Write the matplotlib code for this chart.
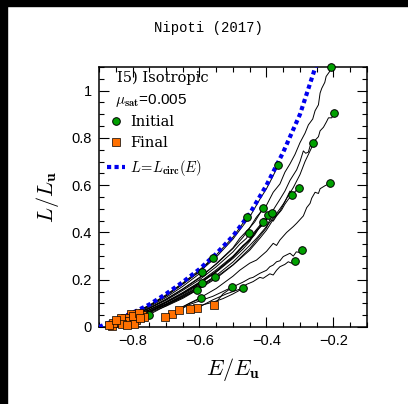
import numpy as np
import matplotlib.pyplot as plt
from matplotlib.patches import Rectangle

plt.rcParams['mathtext.fontset'] = 'cm'

# circular-orbit angular momentum curve
circ_E = [-0.90, -0.85, -0.80, -0.75, -0.70, -0.65, -0.60, -0.55, -0.50, -0.45, -0.40, -0.35, -0.30, -0.27, -0.24]
circ_L = [0.0, 0.03, 0.06, 0.095, 0.14, 0.19, 0.245, 0.31, 0.385, 0.48, 0.60, 0.74, 0.90, 1.03, 1.16]

# initial positions of the satellites
init_E = [-0.208, -0.199, -0.26, -0.21, -0.365, -0.303, -0.323, -0.41, -0.459, -0.395, -0.383, -0.41,
          -0.451, -0.295, -0.315, -0.504, -0.469, -0.559, -0.592, -0.554, -0.593, -0.607, -0.596, -0.75]
init_L = [1.10, 0.904, 0.78, 0.608, 0.685, 0.589, 0.558, 0.503, 0.467, 0.474, 0.484, 0.443,
          0.396, 0.326, 0.279, 0.168, 0.164, 0.292, 0.234, 0.213, 0.185, 0.157, 0.121, 0.051]

# final positions
final_E = [-0.84, -0.805, -0.822, -0.683, -0.862, -0.79, -0.773, -0.835, -0.857, -0.81, -0.765, -0.80,
           -0.83, -0.557, -0.608, -0.66, -0.628, -0.87, -0.848, -0.795, -0.78, -0.778, -0.703, -0.817]
final_L = [0.022, 0.055, 0.037, 0.055, 0.005, 0.030, 0.051, 0.040, 0.016, 0.025, 0.042, 0.047,
           0.012, 0.093, 0.079, 0.072, 0.076, 0.010, 0.030, 0.012, 0.060, 0.037, 0.044, 0.008]

# points along each track between start and end
track_E = [
    [-0.212, -0.222, -0.226, -0.235, -0.24, -0.245, -0.255, -0.262, -0.275, -0.285, -0.30, -0.315, -0.33, -0.345,
     -0.36, -0.38, -0.40, -0.43, -0.45, -0.48, -0.50, -0.55, -0.60, -0.65, -0.70, -0.75, -0.80],
    [-0.205, -0.215, -0.221, -0.23, -0.24, -0.245, -0.255, -0.27, -0.285, -0.30, -0.32, -0.35, -0.37, -0.40,
     -0.43, -0.45, -0.50, -0.55, -0.60, -0.65, -0.70, -0.75],
    [-0.27, -0.275, -0.283, -0.29, -0.30, -0.31, -0.33, -0.345, -0.36, -0.38, -0.40, -0.45, -0.50, -0.55,
     -0.60, -0.65, -0.70, -0.75],
    [-0.225, -0.24, -0.245, -0.255, -0.265, -0.27, -0.28, -0.29, -0.31, -0.32, -0.34, -0.36, -0.37, -0.38,
     -0.40, -0.43, -0.45, -0.48, -0.50, -0.55, -0.60, -0.65],
    [-0.38, -0.40, -0.42, -0.45, -0.48, -0.50, -0.55, -0.60, -0.65, -0.70, -0.75, -0.80, -0.85],
    [-0.31, -0.32, -0.33, -0.335, -0.345, -0.36, -0.38, -0.40, -0.42, -0.45, -0.50, -0.55, -0.60, -0.65, -0.70, -0.75],
    [-0.335, -0.345, -0.355, -0.37, -0.38, -0.39, -0.40, -0.42, -0.45, -0.50, -0.55, -0.60, -0.65, -0.70, -0.75],
    [-0.42, -0.435, -0.45, -0.47, -0.50, -0.55, -0.60, -0.65, -0.70, -0.75, -0.80],
    [-0.47, -0.50, -0.55, -0.60, -0.65, -0.70, -0.75, -0.80, -0.85],
    [-0.40, -0.41, -0.42, -0.44, -0.45, -0.48, -0.50, -0.55, -0.60, -0.65, -0.70, -0.75, -0.80],
    [-0.39, -0.40, -0.41, -0.43, -0.45, -0.47, -0.50, -0.55, -0.60, -0.65, -0.70, -0.74],
    [-0.42, -0.435, -0.45, -0.47, -0.50, -0.55, -0.60, -0.65, -0.70, -0.75],
    [-0.46, -0.48, -0.50, -0.55, -0.60, -0.65, -0.70, -0.75, -0.80],
    [-0.30, -0.311, -0.32, -0.33, -0.34, -0.35, -0.36, -0.37, -0.38, -0.39, -0.40, -0.42, -0.44, -0.45,
     -0.47, -0.50, -0.53],
    [-0.325, -0.335, -0.345, -0.36, -0.37, -0.38, -0.39, -0.41, -0.42, -0.44, -0.46, -0.48, -0.52, -0.56],
    [-0.53, -0.56, -0.60, -0.63],
    [-0.50, -0.53, -0.56, -0.60],
    [-0.60, -0.65, -0.70, -0.75, -0.80, -0.85],
    [-0.65, -0.70, -0.75, -0.80],
    [-0.60, -0.65, -0.70, -0.75],
    [-0.65, -0.70, -0.75],
    [-0.65, -0.70, -0.74],
    [-0.63, -0.66],
    [-0.78],
]
track_L = [
    [1.08, 1.06, 1.035, 1.01, 0.99, 0.94, 0.915, 0.88, 0.855, 0.82, 0.78, 0.73, 0.69, 0.655,
     0.605, 0.57, 0.515, 0.465, 0.42, 0.375, 0.335, 0.268, 0.207, 0.16, 0.116, 0.08, 0.05],
    [0.885, 0.885, 0.868, 0.845, 0.83, 0.805, 0.79, 0.745, 0.70, 0.645, 0.59, 0.52, 0.48, 0.425,
     0.375, 0.345, 0.275, 0.218, 0.172, 0.132, 0.096, 0.066],
    [0.765, 0.74, 0.735, 0.745, 0.70, 0.665, 0.62, 0.575, 0.54, 0.495, 0.455, 0.37, 0.295, 0.235,
     0.183, 0.142, 0.104, 0.071],
    [0.598, 0.585, 0.565, 0.57, 0.545, 0.523, 0.505, 0.47, 0.439, 0.425, 0.40, 0.368, 0.345, 0.354,
     0.32, 0.283, 0.27, 0.24, 0.215, 0.163, 0.122, 0.086],
    [0.64, 0.585, 0.54, 0.466, 0.41, 0.372, 0.296, 0.234, 0.181, 0.131, 0.089, 0.056, 0.028],
    [0.58, 0.565, 0.575, 0.56, 0.53, 0.49, 0.455, 0.41, 0.375, 0.325, 0.262, 0.206, 0.162, 0.121, 0.088, 0.06],
    [0.54, 0.52, 0.495, 0.47, 0.448, 0.455, 0.42, 0.385, 0.332, 0.263, 0.211, 0.166, 0.126, 0.093, 0.063],
    [0.48, 0.445, 0.42, 0.38, 0.332, 0.266, 0.21, 0.161, 0.118, 0.08, 0.05],
    [0.44, 0.38, 0.305, 0.241, 0.186, 0.136, 0.092, 0.058, 0.03],
    [0.455, 0.46, 0.43, 0.395, 0.372, 0.33, 0.30, 0.242, 0.19, 0.146, 0.107, 0.073, 0.046],
    [0.47, 0.455, 0.432, 0.41, 0.362, 0.33, 0.29, 0.232, 0.184, 0.14, 0.103, 0.072],
    [0.425, 0.39, 0.366, 0.345, 0.296, 0.236, 0.188, 0.143, 0.105, 0.072],
    [0.375, 0.35, 0.318, 0.255, 0.20, 0.155, 0.113, 0.078, 0.048],
    [0.315, 0.318, 0.30, 0.312, 0.305, 0.298, 0.28, 0.276, 0.262, 0.255, 0.24, 0.227, 0.21, 0.206,
     0.19, 0.17, 0.14],
    [0.27, 0.276, 0.265, 0.255, 0.24, 0.22, 0.225, 0.206, 0.21, 0.192, 0.18, 0.16, 0.14, 0.115],
    [0.15, 0.13, 0.11, 0.095],
    [0.14, 0.12, 0.105, 0.09],
    [0.235, 0.182, 0.132, 0.09, 0.056, 0.028],
    [0.172, 0.125, 0.085, 0.052],
    [0.17, 0.13, 0.095, 0.065],
    [0.135, 0.098, 0.066],
    [0.125, 0.09, 0.06],
    [0.10, 0.075],
    [0.035],
]

xticks = [-0.8, -0.6, -0.4, -0.2]
xtick_labels = ['\u22120.8', '\u22120.6', '\u22120.4', '\u22120.2']
yticks = [0, 0.2, 0.4, 0.6, 0.8, 1.0]
ytick_labels = ['0', '0.2', '0.4', '0.6', '0.8', '1']

fig = plt.figure(figsize=(4.08, 4.04), dpi=100)
# black frame strips at top and left
fig.patches.append(Rectangle((0, 1 - 6 / 404), 1, 6 / 404, transform=fig.transFigure, color='black', zorder=0))
fig.patches.append(Rectangle((0, 0), 7 / 408, 1, transform=fig.transFigure, color='black', zorder=0))

ax = fig.add_axes([99 / 408, 1 - 327 / 404, 268 / 408, 260 / 404])

for i in range(len(init_E)):
    xs = [init_E[i]] + track_E[i] + [final_E[i]]
    ys = [init_L[i]] + track_L[i] + [final_L[i]]
    ax.plot(xs, ys, color='black', lw=0.7, zorder=2)

circ_line, = ax.plot(circ_E, circ_L, color='#0000ee', lw=3.0, linestyle=(0, (1, 0.8)), zorder=3)
init_pts, = ax.plot(init_E, init_L, 'o', ms=5.5, mfc='#00a000', mec='black', mew=0.7, zorder=4, clip_on=False)
final_pts, = ax.plot(final_E, final_L, 's', ms=5.5, mfc='#ff7000', mec='black', mew=0.5, zorder=5, clip_on=False)

ax.set_xlim(-0.9, -0.1)
ax.set_ylim(0, 1.1)
ax.set_xticks(xticks)
ax.set_xticklabels(xtick_labels, family='Liberation Sans', fontsize=10.5)
ax.set_yticks(yticks)
ax.set_yticklabels(ytick_labels, family='Liberation Sans', fontsize=10.5)
ax.set_xticks(np.arange(-0.9, -0.09, 0.05), minor=True)
ax.set_yticks(np.arange(0, 1.101, 0.05), minor=True)
ax.tick_params(which='both', direction='in', top=True, right=True, width=0.8)
ax.tick_params(which='major', length=7, pad=5)
ax.tick_params(which='minor', length=3.5)
for s in ax.spines.values():
    s.set_linewidth(1.1)

ax.set_xlabel(r'$E/E_{\mathbf{u}}$', fontsize=16, labelpad=6)
ax.set_ylabel(r'$L/L_{\mathbf{u}}$', fontsize=16, labelpad=8)

ax.text(0.067, 0.958, 'I5) Isotropic', transform=ax.transAxes, family='DejaVu Serif', fontsize=10.5, va='center')
ax.text(0.06, 0.873, r'$\mu_{\mathbf{sat}}$=0.005', transform=ax.transAxes, family='Liberation Sans',
        fontsize=11, va='center')
ax.legend([init_pts, final_pts, circ_line], ['Initial', 'Final', r'$L\!=\!L_{\mathbf{circ}}(E)$'],
          loc='upper left', bbox_to_anchor=(0.03, 0.815), frameon=False, borderpad=0, borderaxespad=0,
          handlelength=1.2, handletextpad=0.4, labelspacing=0.5, prop={'family': 'DejaVu Serif', 'size': 10.5})

fig.text(0.512, 1 - 28 / 404, 'Nipoti (2017)', family='Liberation Mono', fontsize=10, ha='center', va='center')

fig.savefig('out.png', dpi=100)
